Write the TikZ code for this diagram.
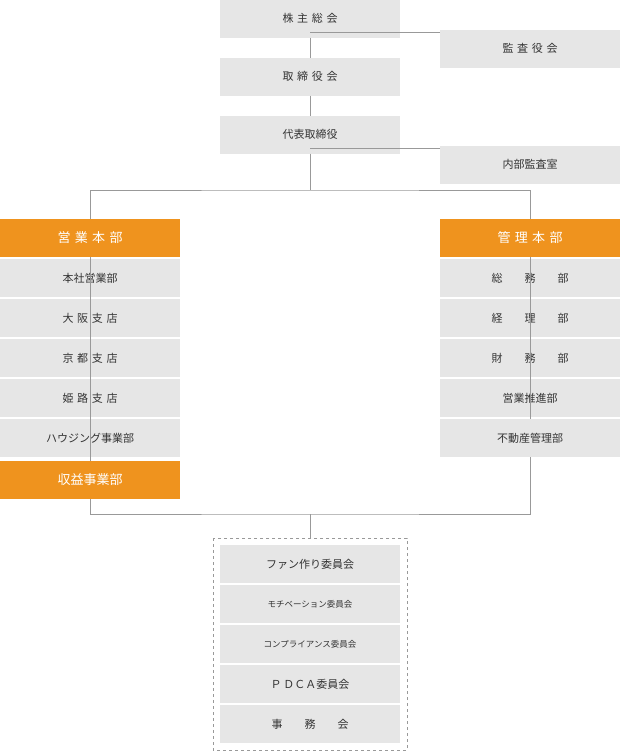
\documentclass[tikz,border=0pt]{standalone}
\usepackage{fontspec}
\setmainfont{Noto Sans CJK JP}
\usetikzlibrary{positioning}
\definecolor{boxgray}{HTML}{E6E6E6}
\definecolor{boxorange}{HTML}{EF931E}
\definecolor{txtgray}{HTML}{333333}
\definecolor{linegray}{HTML}{999999}

\begin{document}
\begin{tikzpicture}[x=1pt,y=-1pt,
  every node/.style={minimum width=180pt,minimum height=38pt,inner sep=0pt,outer sep=0pt,font=\fontsize{11}{13}\selectfont,text=txtgray},
  box/.style={fill=boxgray},
  head/.style={fill=boxorange,text=white,font=\fontsize{13}{15}\selectfont},
  small/.style={box,font=\fontsize{8.5}{10}\selectfont},
  link/.style={draw=linegray,line width=0.8pt}]

  \useasboundingbox (0,0) rectangle (620,755);

  % top
  \node[box](sh) at (310,18.5) {株\,\,主\,\,総\,\,会};
  \node[box](kan) at (530,48.5) {監\,\,査\,\,役\,\,会};
  \node[box](tori) at (310,76.5) {取\,\,締\,\,役\,\,会};
  \node[box](dai) at (310,134.5) {代表取締役};
  \node[box](nai) at (530,164.5) {内部監査室};

  % left column
  \node[head](eigyo) at (90,237.5) {営\,\,業\,\,本\,\,部};
  \node[box](honsha) at (90,278) {本社営業部};
  \node[box](osaka) at (90,318) {大\,\,阪\,\,支\,\,店};
  \node[box](kyoto) at (90,358) {京\,\,都\,\,支\,\,店};
  \node[box](himeji) at (90,398) {姫\,\,路\,\,支\,\,店};
  \node[box](housing) at (90,438) {ハウジング事業部};
  \node[head](shueki) at (90,480) {収益事業部};

  % right column
  \node[head](kanri) at (530,237.5) {管\,\,理\,\,本\,\,部};
  \node[box](somu) at (530,278) {総\qquad 務\qquad 部};
  \node[box](keiri) at (530,318) {経\qquad 理\qquad 部};
  \node[box](zaimu) at (530,358) {財\qquad 務\qquad 部};
  \node[box](suishin) at (530,398) {営業推進部};
  \node[box](fudosan) at (530,438) {不動産管理部};

  % committees
  \node[box](fan) at (310,564) {ファン作り委員会};
  \node[small](moti) at (310,604) {モチベーション委員会};
  \node[small](comp) at (310,644) {コンプライアンス委員会};
  \node[box](pdca) at (310,684) {Ｐ\,ＤＣＡ委員会};
  \node[box](jimu) at (310,724) {事\qquad 務\qquad 会};
  \draw[linegray,dashed,line width=0.6pt] (213,538) rectangle (407,750);

  % connectors
  \draw[link] (sh) -- (tori);
  \draw[link] (sh.south |- kan.170) coordinate(k) -- (k -| kan.west);
  \draw[link] (tori) -- (dai);
  \draw[link] (dai.south) -- (310,190) coordinate(split);
  \draw[link] (dai.south |- nai.170) coordinate(n) -- (n -| nai.west);
  \draw[link] (eigyo.north) |- (split) -| (kanri.north);
  \draw[link] (eigyo) -- (shueki);
  \draw[link] (kanri) -- (fudosan);
  \draw[link] (shueki.south) |- (310,514) coordinate(join) -| (fudosan.south);
  \draw[link] (join) -- (310,538);
\end{tikzpicture}
\end{document}
